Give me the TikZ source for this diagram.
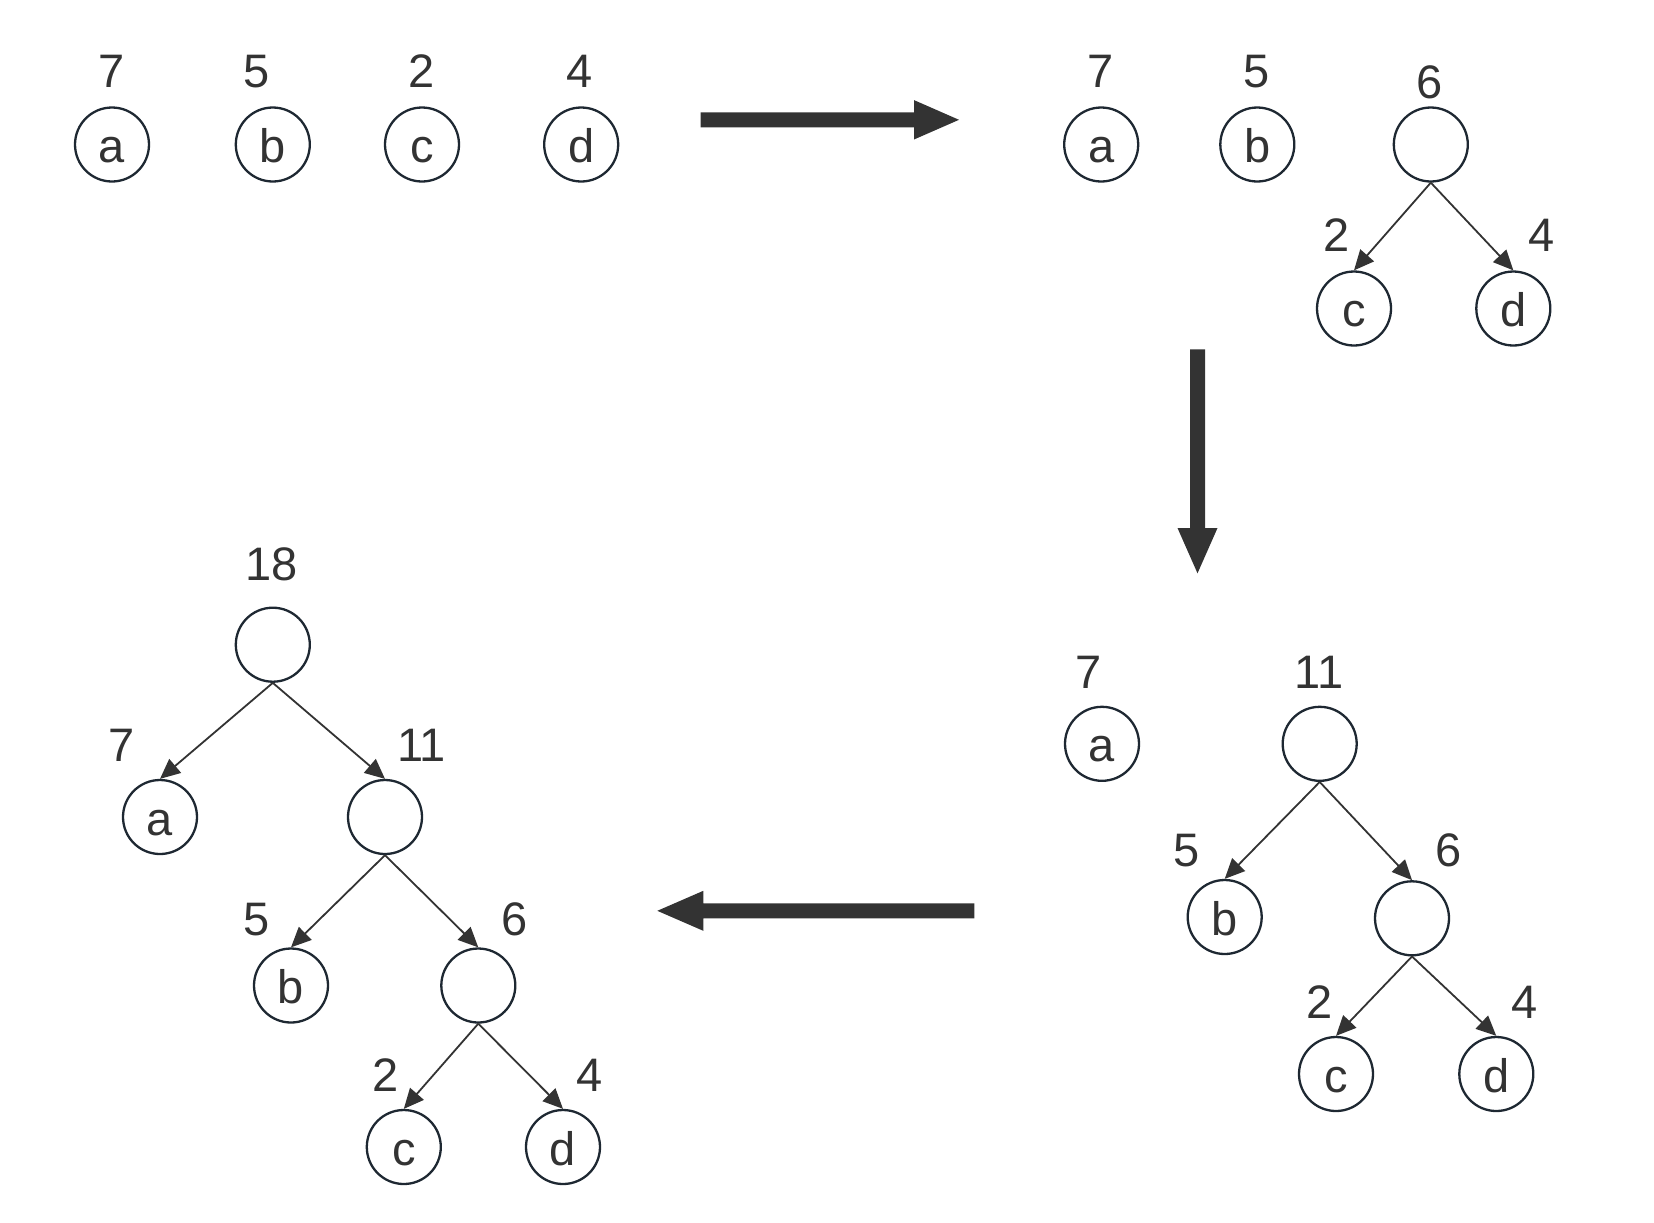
\documentclass[tikz,border=0pt]{standalone}
\usepackage{fontspec}
\setmainfont{Liberation Sans}
\usetikzlibrary{arrows.meta,calc}
\definecolor{txt}{HTML}{333333}
\definecolor{ring}{HTML}{1E2832}
\begin{document}
\begin{tikzpicture}[x=0.5pt,y=-0.5pt,
  font=\fontsize{23.5pt}{28pt}\selectfont,
  tnode/.style={circle,draw=ring,line width=1.15pt,minimum size=37pt,inner sep=0pt,
    text=txt,text height=18pt,text depth=0pt},
  wlabel/.style={anchor=base,text=txt,inner sep=0pt},
  edge/.style={draw=txt,line width=0.9pt,-{Triangle[length=10pt,width=9pt]}},
  bigarr/.style={fill=txt}]
\useasboundingbox (0,0) rectangle (1654,1222);

% ---------- panel 1 ----------
\node[tnode] (p1a) at (112,144.5) {a};
\node[tnode] (p1b) at (272.8,144.5) {b};
\node[tnode] (p1c) at (422,144.5) {c};
\node[tnode] (p1d) at (581.2,144.5) {d};
\node[wlabel] (l1a) at (112,87) {7};
\node[wlabel] (l1b) at (256.7,87) {5};
\node[wlabel] (l1c) at (422,87) {2};
\node[wlabel] (l1d) at (580,87) {4};

% ---------- panel 2 ----------
\node[tnode] (p2a) at (1101.2,144.5) {a};
\node[tnode] (p2b) at (1257.3,144.5) {b};
\node[tnode] (p2r) at (1430.8,144.5) {};
\node[tnode] (p2c) at (1354,308.5) {c};
\node[tnode] (p2d) at (1513.3,308.5) {d};
\node[wlabel] (l2a) at (1101,87) {7};
\node[wlabel] (l2b) at (1257,87) {5};
\node[wlabel] (l2r) at (1430,98) {6};
\node[wlabel] (l2c) at (1337,251) {2};
\node[wlabel] (l2d) at (1541.7,251) {4};
\draw[edge] (p2r.south) -- (p2c.north);
\draw[edge] (p2r.south) -- (p2d.north);

% ---------- panel 3 ----------
\node[tnode] (p3a) at (1102,743.8) {a};
\node[tnode] (p3r) at (1319.7,743.8) {};
\node[tnode] (p3b) at (1224.7,917) {b};
\node[tnode] (p3s) at (1412,918.3) {};
\node[tnode] (p3c) at (1336,1074) {c};
\node[tnode] (p3d) at (1496.3,1074) {d};
\node[wlabel] (l3a) at (1088.3,688.3) {7};
\node[wlabel] (l3r) at (1319.3,688.3) {11};
\node[wlabel] (l3b) at (1186.7,866.7) {5};
\node[wlabel] (l3s) at (1449,866.7) {6};
\node[wlabel] (l3c) at (1319.3,1018.5) {2};
\node[wlabel] (l3d) at (1524.3,1018.5) {4};
\draw[edge] (p3r.south) -- (p3b.north);
\draw[edge] (p3r.south) -- (p3s.north);
\draw[edge] (p3s.south) -- (p3c.north);
\draw[edge] (p3s.south) -- (p3d.north);

% ---------- panel 4 ----------
\node[tnode] (p4r) at (272.8,644.7) {};
\node[tnode] (p4a) at (160,817) {a};
\node[tnode] (p4s) at (385,817) {};
\node[tnode] (p4b) at (291,985.5) {b};
\node[tnode] (p4t) at (478.3,985.5) {};
\node[tnode] (p4c) at (403.8,1147) {c};
\node[tnode] (p4d) at (563,1147) {d};
\node[wlabel] (l4r) at (271.7,580) {18};
\node[wlabel] (l4a) at (121.7,761.7) {7};
\node[wlabel] (l4s) at (421.7,761.7) {11};
\node[wlabel] (l4b) at (256.7,935) {5};
\node[wlabel] (l4t) at (515,935) {6};
\node[wlabel] (l4c) at (385.7,1091.7) {2};
\node[wlabel] (l4d) at (590,1091.7) {4};
\draw[edge] (p4r.south) -- (p4a.north);
\draw[edge] (p4r.south) -- (p4s.north);
\draw[edge] (p4s.south) -- (p4b.north);
\draw[edge] (p4s.south) -- (p4t.north);
\draw[edge] (p4t.south) -- (p4c.north);
\draw[edge] (p4t.south) -- (p4d.north);

% ---------- big transition arrows ----------
\coordinate (g1s) at (700.7,119.8);
\coordinate (g1e) at (959,119.8);
\fill[bigarr] ($(g1s)+(0,-7.5)$) -- ($(g1e)+(-45,-7.5)$) -- ($(g1e)+(-45,-19.7)$) -- (g1e)
  -- ($(g1e)+(-45,19.7)$) -- ($(g1e)+(-45,7.5)$) -- ($(g1s)+(0,7.5)$) -- cycle;

\coordinate (g2s) at (1197.5,349.3);
\coordinate (g2e) at (1197.5,573.3);
\fill[bigarr] ($(g2s)+(-7.5,0)$) -- ($(g2e)+(-7.5,-45.3)$) -- ($(g2e)+(-20,-45.3)$) -- (g2e)
  -- ($(g2e)+(20,-45.3)$) -- ($(g2e)+(7.5,-45.3)$) -- ($(g2s)+(7.5,0)$) -- cycle;

\coordinate (g3s) at (974.3,910.8);
\coordinate (g3e) at (657.3,910.8);
\fill[bigarr] ($(g3s)+(0,-7.5)$) -- ($(g3e)+(46,-7.5)$) -- ($(g3e)+(46,-20)$) -- (g3e)
  -- ($(g3e)+(46,20)$) -- ($(g3e)+(46,7.5)$) -- ($(g3s)+(0,7.5)$) -- cycle;
\end{tikzpicture}
\end{document}
